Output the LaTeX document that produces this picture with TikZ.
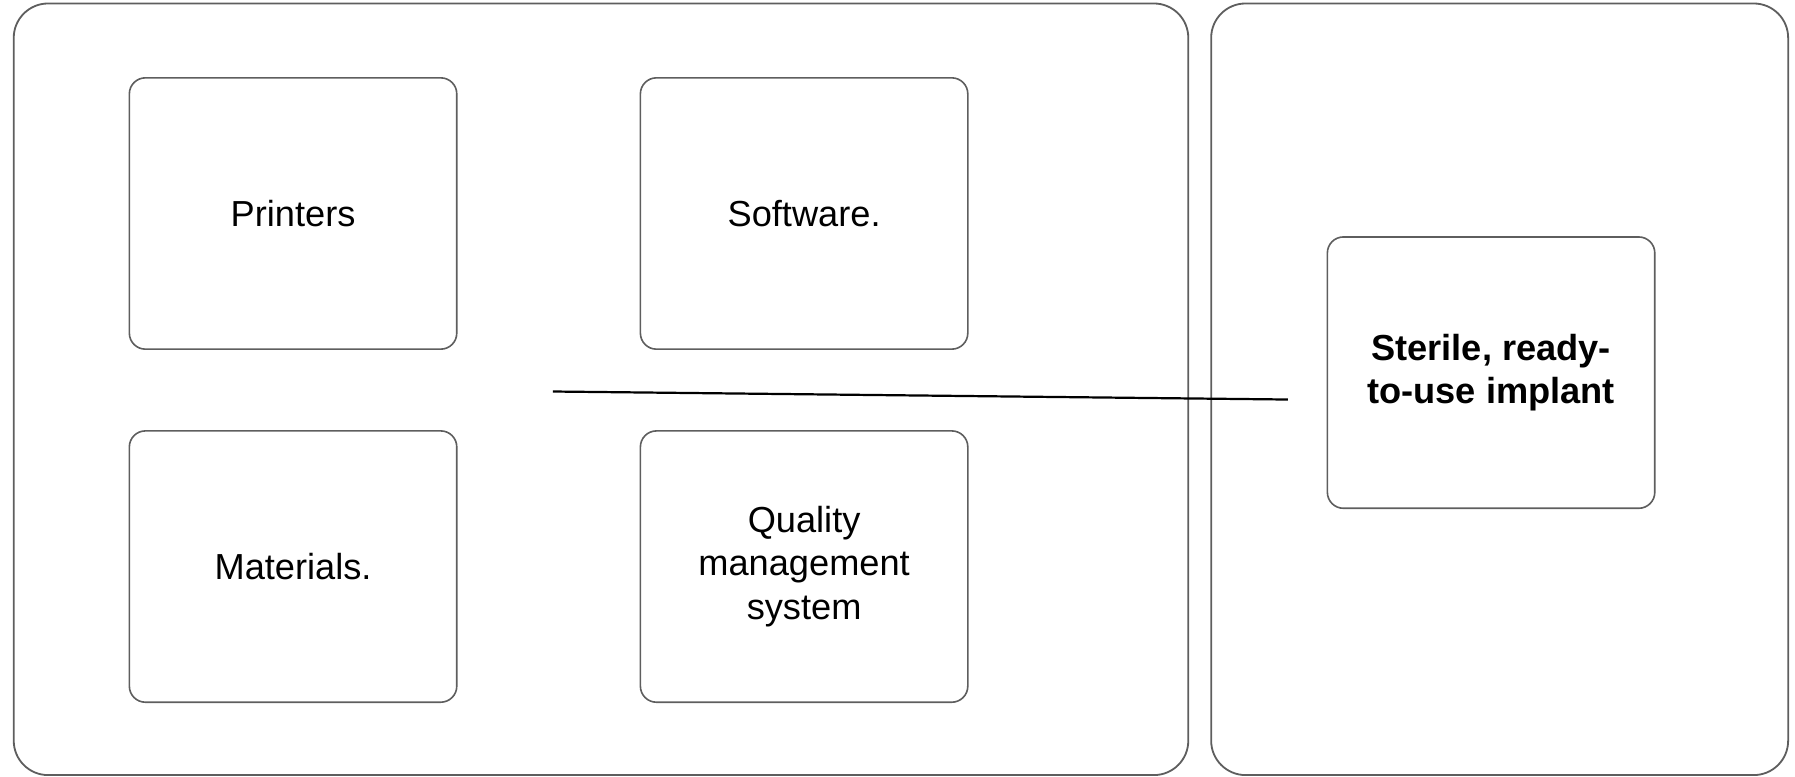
\documentclass[tikz,border=0pt]{standalone}
\usepackage{fontspec}
\setmainfont{Liberation Sans}
\usetikzlibrary{positioning}
\definecolor{boxgray}{HTML}{5E5E5E}
\tikzset{
panel/.style = {draw=boxgray, line width=0.9pt, rounded corners=0.6cm, rectangle, inner sep=0pt},
part/.style = {draw=boxgray, line width=0.8pt, rounded corners=0.28cm, rectangle, align=center, minimum width=5.72cm, minimum height=4.74cm, font=\fontsize{18}{21.6}\selectfont},
link/.style = {draw=black, line width=1.1pt},
}
\begin{document}
\begin{tikzpicture}[node distance=1.4cm and 3.18cm]
\useasboundingbox (0,0) rectangle (31.36,13.572);
% outer panels
\node [panel, minimum width=20.52cm, minimum height=13.48cm] (inputs) at (10.5,6.771) {};
\node [panel, minimum width=10.08cm, minimum height=13.48cm] (output) at (26.2,6.771) {};
% four parts
\node [part] (printers) at (5.12,9.842) {Printers};
\node [part, right=of printers] (software) {Software.};
\node [part, below=of printers] (materials) {Materials.};
\node [part, right=of materials] (quality) {Quality\\management\\system};
% result
\node [part, font=\fontsize{18}{21.6}\selectfont\bfseries] (implant) at (26.05,7.062) {Sterile, ready-\\to-use implant};
\coordinate (from) at (9.66,6.732);
\coordinate (to) at (22.5,6.592);
\draw [link] (from) -- (to);
\end{tikzpicture}
\end{document}
